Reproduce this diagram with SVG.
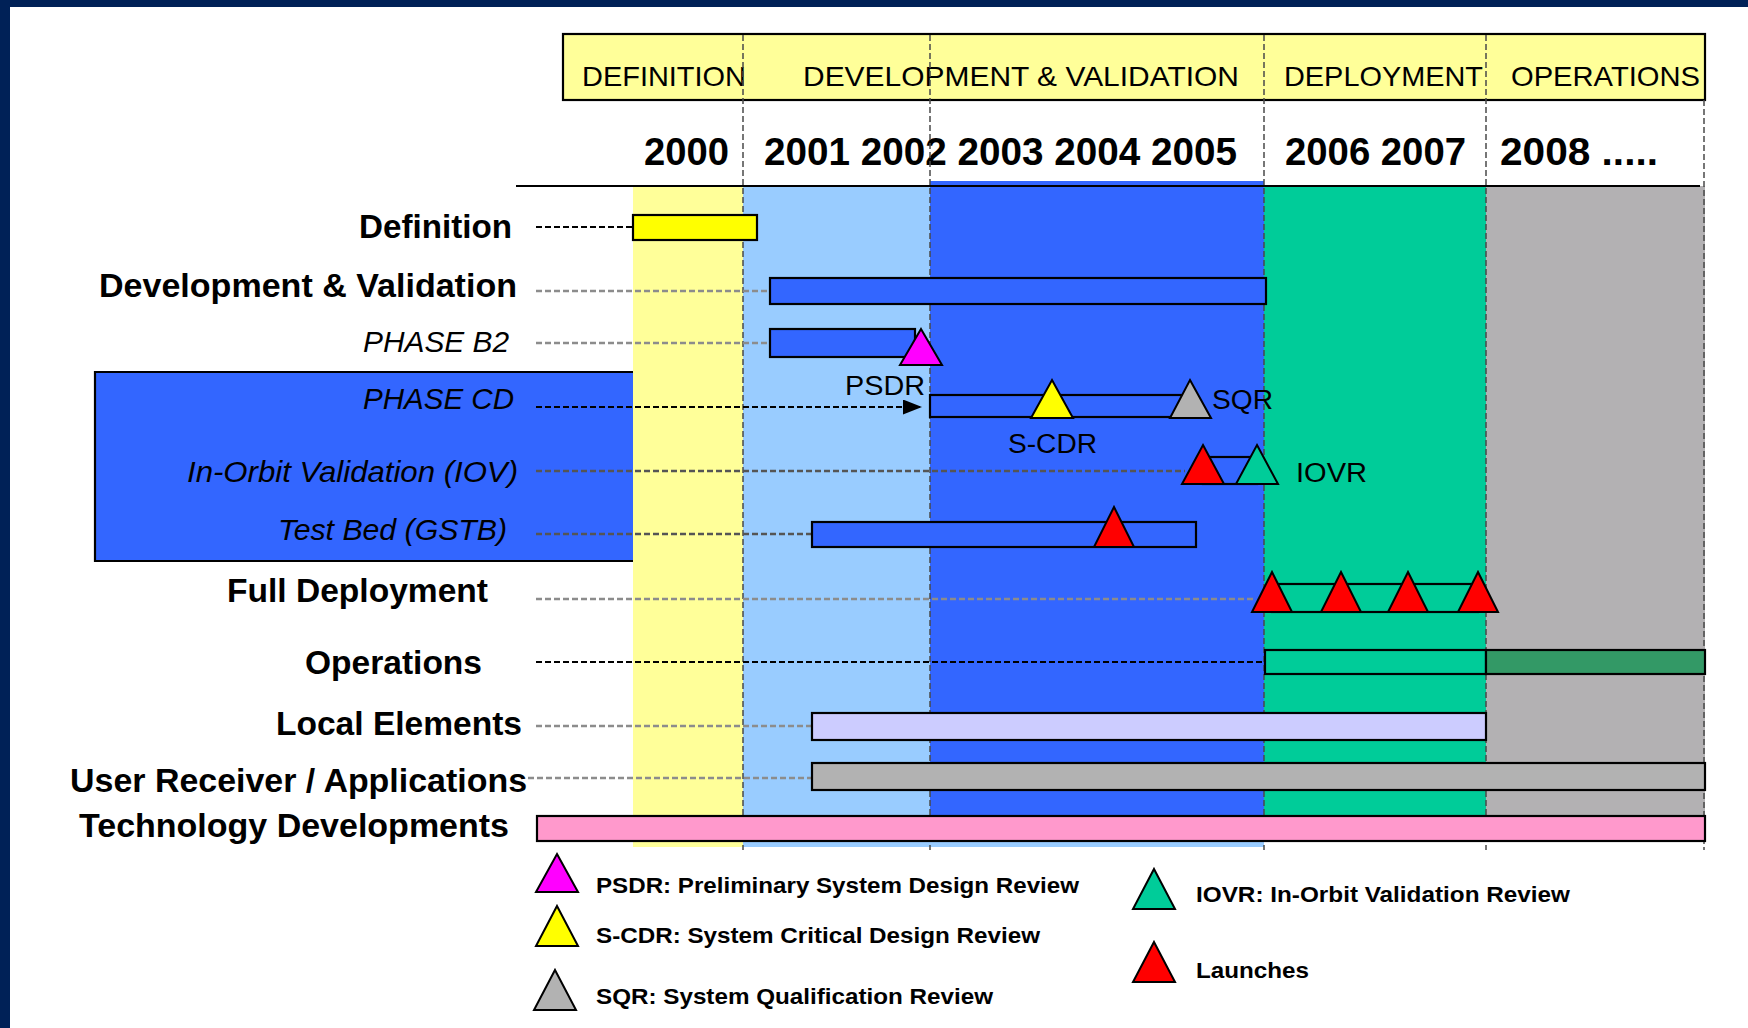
<svg xmlns="http://www.w3.org/2000/svg" width="1748" height="1028" viewBox="0 0 1748 1028">
  <style>
    text { font-family: "Liberation Sans", Arial, sans-serif; fill: #000; }
    .phase { font-size: 28px; }
    .year { font-size: 38px; font-weight: bold; }
    .lbl { font-size: 33px; font-weight: bold; text-anchor: end; }
    .ital { font-size: 30px; font-style: italic; text-anchor: end; }
    .ms { font-size: 27px; }
    .leg { font-size: 22px; font-weight: bold; }
    .bar { stroke: #000; stroke-width: 2.2; }
    .tri { stroke: #000; stroke-width: 2; stroke-linejoin: miter; }
    .div { stroke: #4a4a4a; stroke-width: 1.5; stroke-dasharray: 6 3; fill: none; }
    .lead-k { stroke: #000; stroke-width: 2; stroke-dasharray: 6 3; fill: none; }
    .lead-g { stroke: #8c8c8c; stroke-width: 2.6; stroke-dasharray: 6 3; fill: none; }
    .lead-d { stroke: #555; stroke-width: 2.6; stroke-dasharray: 6 3; fill: none; }
  </style>
  <defs>
    <marker id="arrow" viewBox="0 0 19 15" refX="19" refY="7.5" markerWidth="19" markerHeight="15" markerUnits="userSpaceOnUse" orient="auto">
      <path d="M0,0 L19,7.5 L0,15 z" fill="#000"/>
    </marker>
  </defs>

  <!-- page background and frame -->
  <rect x="0" y="0" width="1748" height="1028" fill="#ffffff"/>
  <rect x="0" y="0" width="1748" height="7" fill="#002157"/>
  <rect x="0" y="0" width="10" height="1028" fill="#002157"/>

  <!-- phase header -->
  <g id="phase-header">
    <rect x="563" y="34" width="1142" height="66" fill="#ffff99" stroke="#000" stroke-width="2.2"/>
    <text class="phase" x="582" y="86" textLength="164" lengthAdjust="spacingAndGlyphs">DEFINITION</text>
    <text class="phase" x="803" y="86" textLength="436" lengthAdjust="spacingAndGlyphs">DEVELOPMENT &amp; VALIDATION</text>
    <text class="phase" x="1284" y="86" textLength="199" lengthAdjust="spacingAndGlyphs">DEPLOYMENT</text>
    <text class="phase" x="1511" y="86" textLength="189" lengthAdjust="spacingAndGlyphs">OPERATIONS</text>
  </g>

  <!-- year row -->
  <g id="years">
    <text class="year" x="644" y="165" textLength="85" lengthAdjust="spacingAndGlyphs">2000</text>
    <text class="year" x="764" y="165" textLength="473" lengthAdjust="spacingAndGlyphs">2001 2002 2003 2004 2005</text>
    <text class="year" x="1285" y="165" textLength="181" lengthAdjust="spacingAndGlyphs">2006 2007</text>
    <text class="year" x="1500" y="165" textLength="158" lengthAdjust="spacingAndGlyphs">2008 .....</text>
  </g>

  <!-- period background columns -->
  <g id="columns">
    <rect x="633" y="186" width="110" height="661" fill="#ffff99"/>
    <rect x="743" y="186" width="187" height="661" fill="#99ccff"/>
    <rect x="930" y="181" width="334" height="660" fill="#3366ff"/>
    <rect x="930" y="841" width="334" height="6" fill="#99ccff"/>
    <rect x="1264" y="186" width="222" height="655" fill="#00cc99"/>
    <rect x="1486" y="186" width="219" height="655" fill="#b3b1b3"/>
  </g>
  <line x1="516" y1="186" x2="1700" y2="186" stroke="#000" stroke-width="2.2"/>

  <!-- left panel behind the phase C/D rows -->
  <path id="phase-cd-panel" d="M633,372 H95 V561 H633" fill="#3366ff" stroke="#000" stroke-width="2.2"/>

  <!-- period dividers -->
  <g id="dividers">
    <line class="div" x1="743" y1="35" x2="743" y2="850"/>
    <line class="div" x1="930" y1="35" x2="930" y2="850"/>
    <line class="div" x1="1264" y1="35" x2="1264" y2="850"/>
    <line class="div" x1="1486" y1="35" x2="1486" y2="850"/>
    <line class="div" x1="1704" y1="100" x2="1704" y2="850"/>
  </g>

  <!-- leader lines from row labels to bars -->
  <g id="connectors">
    <line class="lead-k" x1="536" y1="227" x2="633" y2="227"/>
    <line class="lead-g" x1="536" y1="291" x2="770" y2="291"/>
    <line class="lead-g" x1="536" y1="343" x2="770" y2="343"/>
    <line class="lead-k" x1="536" y1="407" x2="922" y2="407" marker-end="url(#arrow)"/>
    <line class="lead-d" x1="536" y1="471" x2="1185" y2="471"/>
    <line class="lead-d" x1="536" y1="534" x2="812" y2="534"/>
    <line class="lead-g" x1="536" y1="599" x2="1255" y2="599"/>
    <line class="lead-k" x1="536" y1="662" x2="1265" y2="662"/>
    <line class="lead-g" x1="536" y1="726" x2="812" y2="726"/>
    <line class="lead-g" x1="528" y1="778" x2="812" y2="778"/>
  </g>

  <!-- rows -->
  <g id="row-definition">
    <text class="lbl" x="512" y="238" textLength="153" lengthAdjust="spacingAndGlyphs">Definition</text>
    <rect class="bar" x="633" y="215" width="124" height="25" fill="#ffff00"/>
  </g>

  <g id="row-dev-val">
    <text class="lbl" x="517" y="297" textLength="418" lengthAdjust="spacingAndGlyphs">Development &amp; Validation</text>
    <rect class="bar" x="770" y="278" width="496" height="26" fill="#3366ff"/>
  </g>

  <g id="row-phase-b2">
    <text class="ital" x="509" y="352" textLength="146" lengthAdjust="spacingAndGlyphs">PHASE B2</text>
    <rect class="bar" x="770" y="329" width="145" height="28" fill="#3366ff"/>
    <polygon class="tri" points="921,329 942,365 900,365" fill="#ff00ff"/>
    <text class="ms" x="925" y="395" text-anchor="end" textLength="80" lengthAdjust="spacingAndGlyphs">PSDR</text>
  </g>

  <g id="row-phase-cd">
    <text class="ital" x="514" y="409" textLength="151" lengthAdjust="spacingAndGlyphs">PHASE CD</text>
    <rect class="bar" x="930" y="395" width="260" height="22" fill="#3366ff"/>
    <polygon class="tri" points="1052,380 1073,418 1031,418" fill="#ffff00"/>
    <polygon class="tri" points="1190,380 1211,418 1170,418" fill="#b2b2b2"/>
    <text class="ms" x="1212" y="409" textLength="61" lengthAdjust="spacingAndGlyphs">SQR</text>
    <text class="ms" x="1008" y="453" textLength="89" lengthAdjust="spacingAndGlyphs">S-CDR</text>
  </g>

  <g id="row-iov">
    <text class="ital" x="518" y="482" textLength="331" lengthAdjust="spacingAndGlyphs">In-Orbit Validation (IOV)</text>
    <rect class="bar" x="1203" y="457" width="54" height="27" fill="#3366ff"/>
    <polygon class="tri" points="1203,445 1224,484 1182,484" fill="#ff0000"/>
    <polygon class="tri" points="1257,445 1278,484 1236,484" fill="#00cc99"/>
    <text class="ms" x="1296" y="482" textLength="71" lengthAdjust="spacingAndGlyphs">IOVR</text>
  </g>

  <g id="row-test-bed">
    <text class="ital" x="507" y="540" textLength="229" lengthAdjust="spacingAndGlyphs">Test Bed (GSTB)</text>
    <rect class="bar" x="812" y="522" width="384" height="25" fill="#3366ff"/>
    <polygon class="tri" points="1114,507 1134,547 1094,547" fill="#ff0000"/>
  </g>

  <g id="row-full-deployment">
    <text class="lbl" x="488" y="602" textLength="261" lengthAdjust="spacingAndGlyphs">Full Deployment</text>
    <rect class="bar" x="1272" y="584" width="206" height="28" fill="#00cc99"/>
    <polygon class="tri" points="1272,572 1292,612 1252,612" fill="#ff0000"/>
    <polygon class="tri" points="1341,572 1361,612 1321,612" fill="#ff0000"/>
    <polygon class="tri" points="1408,572 1428,612 1388,612" fill="#ff0000"/>
    <polygon class="tri" points="1478,572 1498,612 1458,612" fill="#ff0000"/>
  </g>

  <g id="row-operations">
    <text class="lbl" x="482" y="674" textLength="177" lengthAdjust="spacingAndGlyphs">Operations</text>
    <rect class="bar" x="1265" y="650" width="221" height="24" fill="#00cc99"/>
    <rect class="bar" x="1486" y="650" width="219" height="24" fill="#339966"/>
  </g>

  <g id="row-local-elements">
    <text class="lbl" x="522" y="735" textLength="246" lengthAdjust="spacingAndGlyphs">Local Elements</text>
    <rect class="bar" x="812" y="713" width="674" height="27" fill="#ccccff"/>
  </g>

  <g id="row-user-receiver">
    <text class="lbl" x="527" y="792" textLength="457" lengthAdjust="spacingAndGlyphs">User Receiver / Applications</text>
    <rect class="bar" x="812" y="763" width="893" height="27" fill="#b2b2b2"/>
  </g>

  <g id="row-technology">
    <text class="lbl" x="509" y="837" textLength="430" lengthAdjust="spacingAndGlyphs">Technology Developments</text>
    <rect class="bar" x="537" y="816" width="1168" height="25" fill="#ff99cc"/>
  </g>

  <!-- legend -->
  <g id="legend">
    <polygon class="tri" points="557,854 578,892 536,892" fill="#ff00ff"/>
    <text class="leg" x="596" y="893" textLength="483" lengthAdjust="spacingAndGlyphs">PSDR: Preliminary System Design Review</text>
    <polygon class="tri" points="557,906 578,946 536,946" fill="#ffff00"/>
    <text class="leg" x="596" y="943" textLength="444" lengthAdjust="spacingAndGlyphs">S-CDR: System Critical Design Review</text>
    <polygon class="tri" points="555,970 576,1010 534,1010" fill="#b2b2b2"/>
    <text class="leg" x="596" y="1004" textLength="397" lengthAdjust="spacingAndGlyphs">SQR: System Qualification Review</text>
    <polygon class="tri" points="1154,869 1175,909 1133,909" fill="#00cc99"/>
    <text class="leg" x="1196" y="902" textLength="374" lengthAdjust="spacingAndGlyphs">IOVR: In-Orbit Validation Review</text>
    <polygon class="tri" points="1154,942 1175,982 1133,982" fill="#ff0000"/>
    <text class="leg" x="1196" y="978" textLength="113" lengthAdjust="spacingAndGlyphs">Launches</text>
  </g>
</svg>
